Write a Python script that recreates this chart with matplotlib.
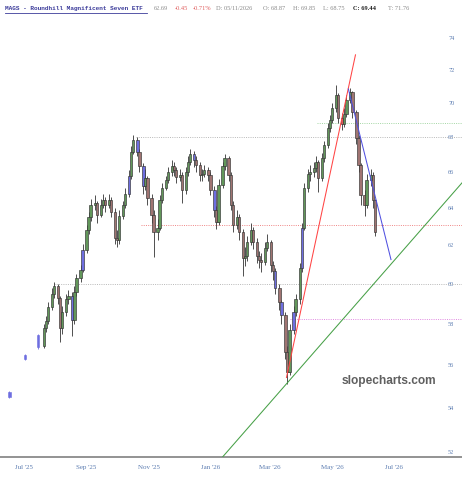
import numpy as np
import pandas as pd
import matplotlib
matplotlib.use("Agg")
import matplotlib.pyplot as plt
import matplotlib.dates as mdates
from matplotlib.lines import Line2D
from matplotlib.ticker import FixedLocator, NullLocator, FuncFormatter
from datetime import datetime

# ---------------- data ----------------
start_date = "2025-07-21"   # first candle of the main run, one candle per 2 trading days
first_open = 56.9
closes = [57.8, 58.15, 58.85, 59.5, 59.9, 59.3, 57.8, 58.6, 59.25, 59.4,
          58.2, 59.6, 60.3, 60.74, 61.78, 62.84, 63.5, 64.2, 64.3, 63.65,
          64.2, 64.47, 64.15, 64.47, 63.8, 62.4, 62.3, 63.6, 64.15, 64.8,
          65.8, 67.15, 67.84, 67.15, 66.35, 65.24, 65.68, 64.58, 63.65, 62.73,
          62.95, 64.47, 65.13, 65.57, 66.0, 66.35, 66.13, 65.74, 65.85, 65.0,
          66.0, 66.6, 67.04, 66.7, 66.4, 65.85, 65.9, 66.13, 65.85, 65.0,
          63.92, 63.27, 65.3, 66.35, 66.8, 65.85, 64.2, 63.1, 63.5, 62.73,
          61.36, 61.47, 62.2, 62.84, 62.2, 61.47, 61.26, 61.15, 61.88, 62.2,
          61.0, 60.64, 59.81, 59.06, 58.45, 56.64, 55.68, 57.71, 58.6, 59.21,
          60.84, 62.95, 65.13, 65.9, 66.0, 66.24, 66.59, 65.68, 66.82, 67.55,
          68.54, 69.0, 69.71, 70.5, 69.12, 68.77, 69.36, 70.19, 70.67, 69.47,
          67.96, 66.41, 64.75, 64.15, 65.57, 65.85, 64.47, 62.69]
highs = [58.0, 58.4, 59.1, 59.8, 60.1, 60.0, 59.4, 58.9, 59.5, 59.7,
         59.6, 59.9, 60.5, 61.0, 62.1, 63.1, 63.8, 64.5, 64.7, 64.4,
         64.5, 64.8, 64.6, 64.8, 64.6, 64.0, 62.8, 63.9, 64.4, 65.1,
         66.1, 67.5, 68.1, 68.0, 67.3, 66.5, 66.2, 65.8, 64.8, 63.9,
         63.4, 64.7, 65.4, 65.8, 66.3, 66.7, 66.6, 66.3, 66.2, 66.0,
         66.3, 66.9, 67.3, 67.2, 66.9, 66.6, 66.2, 66.4, 66.3, 66.0,
         65.2, 64.1, 65.6, 66.6, 67.0, 66.9, 66.0, 64.4, 63.9, 63.7,
         62.9, 61.9, 62.5, 63.2, 63.0, 62.4, 61.7, 61.6, 62.2, 62.6,
         62.3, 61.2, 60.8, 60.0, 59.2, 58.6, 56.9, 58.0, 58.9, 59.5,
         61.1, 63.2, 65.4, 66.2, 66.4, 66.6, 66.9, 66.7, 67.1, 67.8,
         68.8, 69.3, 70.0, 71.1, 70.6, 69.4, 69.7, 70.5, 70.9, 70.7,
         69.6, 68.1, 66.5, 65.0, 65.9, 66.2, 66.0, 64.5]
lows = [56.8, 57.6, 58.0, 58.7, 59.3, 59.0, 57.1, 57.5, 58.4, 59.0,
        57.4, 58.0, 59.4, 60.1, 60.6, 61.6, 62.6, 63.3, 63.9, 63.2,
        63.5, 64.0, 63.8, 64.0, 63.5, 62.1, 61.9, 62.1, 63.4, 64.0,
        64.6, 65.6, 67.0, 66.9, 66.0, 64.8, 65.0, 64.2, 63.2, 61.4,
        62.3, 62.8, 64.3, 65.0, 65.4, 65.8, 65.8, 65.4, 65.5, 64.3,
        64.8, 65.8, 66.4, 66.3, 66.0, 65.5, 65.5, 65.7, 65.5, 64.7,
        63.5, 62.9, 63.1, 65.1, 66.1, 65.5, 63.9, 62.7, 62.9, 62.3,
        60.4, 60.9, 61.2, 62.0, 61.8, 61.1, 60.8, 60.6, 61.0, 61.7,
        60.6, 60.2, 59.5, 58.7, 58.0, 56.3, 55.1, 55.5, 57.5, 58.4,
        59.0, 60.6, 62.8, 64.9, 65.5, 65.7, 66.0, 64.9, 65.5, 66.6,
        67.4, 68.3, 68.8, 69.5, 68.8, 68.4, 68.6, 69.2, 70.0, 69.1,
        67.6, 66.0, 64.2, 63.6, 64.0, 65.2, 64.0, 62.5]
blue_idx = [10, 14, 30, 33, 35, 53, 60, 82, 84, 88, 91]
red_idx = [105]

early_dates = ["2025-06-17", "2025-07-02", "2025-07-15"]
early_open = [54.7, 56.45, 57.45]
early_close = [54.5, 56.3, 56.85]
early_high = [54.75, 56.5, 57.5]
early_low = [54.45, 56.25, 56.75]

level_values = [68.0, 63.07, 60.0, 68.8, 58.24]
level_starts = ["2025-10-20", "2025-10-25", "2025-07-31", "2026-04-16", "2026-03-20"]

trend_dates = [["2026-03-17", "2026-05-24"], ["2026-05-17", "2026-06-28"], ["2026-01-13", "2026-09-06"]]
trend_values = [[55.4, 72.94], [70.85, 61.26], [51.77, 65.4]]

y_ticks = [52, 54, 56, 58, 60, 62, 64, 66, 68, 70, 72, 74]
x_tick_dates = ["2025-07-01", "2025-09-01", "2025-11-01", "2026-01-01", "2026-03-01", "2026-05-01", "2026-07-01"]
x_tick_labels = ["Jul '25", "Sep '25", "Nov '25", "Jan '26", "Mar '26", "May '26", "Jul '26"]

# ---------------- figure ----------------
W, H = 462, 480
fig = plt.figure(figsize=(W / 100, H / 100), dpi=100)
ax = fig.add_axes([0, 23 / H, 1, 437 / H])
ax.set_yscale("log")

dates = pd.bdate_range(start=start_date, periods=len(closes), freq="2B")
xd = mdates.date2num(dates.to_pydatetime())
closes_a = np.array(closes)
opens_a = np.concatenate([[first_open], closes_a[:-1]])

GREEN = "#62975a"
BROWN = "#a07472"
BLUE = "#6e6ee0"
RED = "#e25a5a"
EDGE = "#333333"
bw = 2.3

colors = []
for i in range(len(closes)):
    if i in blue_idx:
        colors.append(BLUE)
    elif i in red_idx:
        colors.append(RED)
    elif closes_a[i] >= opens_a[i]:
        colors.append(GREEN)
    else:
        colors.append(BROWN)

ax.vlines(xd, lows, highs, color=EDGE, lw=0.6, zorder=3)
bottoms = np.minimum(opens_a, closes_a)
heights = np.maximum(np.abs(closes_a - opens_a), 0.06)
ax.bar(xd, heights, bottom=bottoms, width=bw, color=colors, edgecolor=EDGE,
       linewidth=0.45, zorder=4)

exd = mdates.date2num(pd.to_datetime(early_dates).to_pydatetime())
eo = np.array(early_open); ec = np.array(early_close)
ax.vlines(exd, early_low, early_high, color=BLUE, lw=0.6, zorder=3)
ax.bar(exd, np.abs(ec - eo), bottom=np.minimum(eo, ec), width=bw,
       color=BLUE, edgecolor=BLUE, linewidth=0.4, zorder=4)

x_left = mdates.date2num(datetime(2025, 7, 1)) - 23.36
x_right = mdates.date2num(datetime(2025, 7, 1)) + 432.0

level_colors = ["#b8b8b8", "#ef8585", "#b8b8b8", "#a3d6a3", "#e088e0"]
for v, s, c in zip(level_values, level_starts, level_colors):
    xs = mdates.date2num(pd.Timestamp(s).to_pydatetime())
    ax.plot([xs, x_right], [v, v], color=c, lw=0.7, ls=(0, (1, 1.3)), zorder=2)

trend_colors = ["#ff4444", "#5050e0", "#47a047"]
for d, v, c in zip(trend_dates, trend_values, trend_colors):
    xs = mdates.date2num(pd.to_datetime(d).to_pydatetime())
    ax.plot(xs, v, color=c, lw=0.75, zorder=5)

ax.set_xlim(x_left, x_right)
ax.set_ylim(51.77, 75.14)

ax.yaxis.tick_right()
ax.yaxis.set_major_locator(FixedLocator(y_ticks))
ax.yaxis.set_minor_locator(NullLocator())
ax.yaxis.set_major_formatter(FuncFormatter(lambda v, p: f"{v:.0f}"))
ax.tick_params(axis="y", which="both", length=0, pad=-10, labelsize=4.5,
               labelcolor="#5a7bb0")
for lab in ax.get_yticklabels():
    lab.set_fontfamily("Liberation Serif")

xt = mdates.date2num(pd.to_datetime(x_tick_dates).to_pydatetime())
ax.set_xticks(xt)
ax.set_xticklabels(x_tick_labels, fontfamily="Liberation Serif")
ax.tick_params(axis="x", length=0, pad=6, labelsize=5, labelcolor="#5a7bb0")

for sp in ["top", "left", "right"]:
    ax.spines[sp].set_visible(False)
ax.spines["bottom"].set_color("#8a8a8a")
ax.spines["bottom"].set_linewidth(1.3)
ax.patch.set_alpha(0)

# ---------------- header ----------------
ty = 1 - 8.5 / H
fig.text(5 / W, ty, "MAGS - Roundhill Magnificent Seven ETF", fontfamily="Liberation Mono",
         fontweight="bold", fontsize=4.45, color="#3b3b9a", va="center", ha="left")
fig.add_artist(Line2D([5 / W, 147 / W], [1 - 12.5 / H, 1 - 12.5 / H], color="#3b3b9a", lw=0.6))
segs = [(154, "62.69", "#8a8a8a", "normal"), (175, "-0.45", "#e06060", "normal"),
        (193, "-0.71%", "#e06060", "normal"), (216, "D: 05/11/2026", "#8a8a8a", "normal"),
        (263, "O: 68.87", "#8a8a8a", "normal"), (293, "H: 69.85", "#8a8a8a", "normal"),
        (323, "L: 68.75", "#8a8a8a", "normal"), (353, "C: 69.44", "#222222", "bold"),
        (388, "T: 71.76", "#8a8a8a", "normal")]
for x, s, c, w in segs:
    fig.text(x / W, ty, s, fontfamily="Liberation Serif", fontsize=4.6, color=c,
             fontweight=w, va="center", ha="left")

fig.text(388.5 / W, 1 - 381 / H, "slopecharts.com", fontfamily="Liberation Sans",
         fontweight="bold", fontsize=8.6, color="#5f5f5f", ha="center", va="center")

fig.savefig("out.png", dpi=100)
